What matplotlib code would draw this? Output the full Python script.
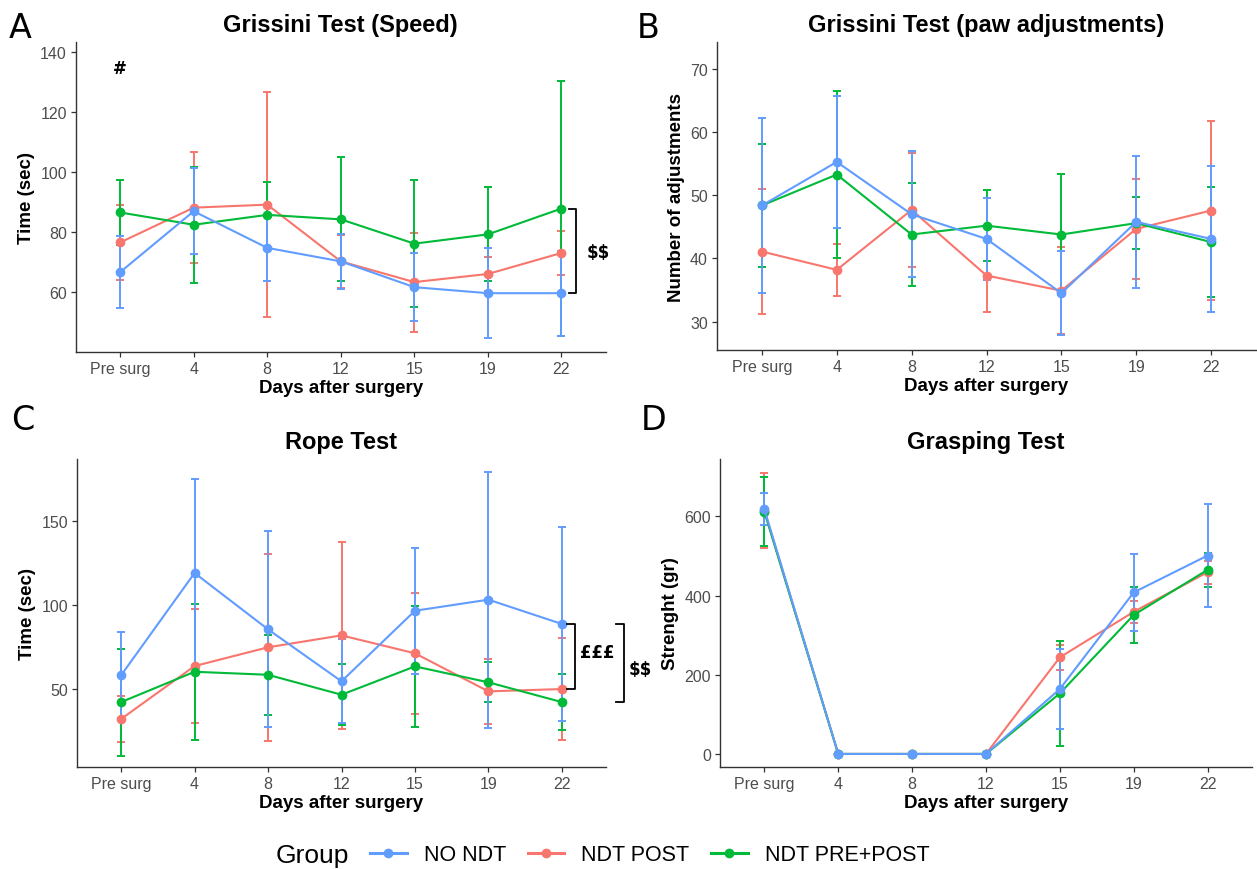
import numpy as np
import matplotlib
matplotlib.use('Agg')
from matplotlib import pyplot as plt
from matplotlib.lines import Line2D

plt.rcParams['font.family'] = ['Liberation Sans', 'DejaVu Sans']

# categories
days = ['Pre surg', '4', '8', '12', '15', '19', '22']
groups = ['NO NDT', 'NDT POST', 'NDT PRE+POST']
colors = {'NO NDT': '#619CFF', 'NDT POST': '#F8766D', 'NDT PRE+POST': '#00BA38'}

# A - Grissini speed (mean, error)
speed_no = [66.6, 86.9, 74.7, 70.2, 61.6, 59.6, 59.6]
speed_no_err = [11.9, 14.3, 11.0, 9.2, 11.4, 15.0, 14.2]
speed_post = [76.5, 88.1, 89.1, 70.2, 63.3, 66.0, 73.0]
speed_post_err = [12.4, 18.6, 37.4, 8.9, 16.5, 5.6, 7.3]
speed_prepost = [86.5, 82.4, 85.7, 84.2, 76.1, 79.2, 87.8]
speed_prepost_err = [10.8, 19.4, 11.1, 20.7, 21.2, 15.7, 42.6]

# B - Grissini paw adjustments
paw_no = [48.4, 55.3, 47.0, 43.1, 34.5, 45.8, 43.1]
paw_no_err = [13.9, 10.4, 10.0, 6.5, 6.7, 10.4, 11.5]
paw_post = [41.1, 38.2, 47.7, 37.3, 34.9, 44.7, 47.6]
paw_post_err = [9.9, 4.1, 9.0, 5.7, 6.9, 7.9, 14.2]
paw_prepost = [48.4, 53.3, 43.8, 45.2, 43.8, 45.6, 42.6]
paw_prepost_err = [9.8, 13.3, 8.2, 5.6, 9.6, 4.1, 8.7]

# C - Rope test
rope_no = [58.2, 119.2, 85.6, 54.6, 96.7, 103.3, 88.8]
rope_no_err = [25.6, 56.0, 58.4, 25.0, 37.6, 76.3, 57.6]
rope_post = [32.1, 63.7, 74.9, 82.0, 71.3, 48.6, 50.0]
rope_post_err = [13.9, 34.0, 55.8, 55.9, 36.0, 19.4, 30.4]
rope_prepost = [42.2, 60.3, 58.5, 46.6, 63.5, 54.0, 42.2]
rope_prepost_err = [31.9, 40.6, 23.7, 18.2, 36.3, 12.0, 16.5]

# D - Grasping test
grasp_no = [618, 0, 0, 0, 164, 408, 501]
grasp_no_err = [40, 0, 0, 0, 100, 97, 130]
grasp_post = [614, 0, 0, 0, 244, 359, 459]
grasp_post_err = [95, 0, 0, 0, 32, 28, 29]
grasp_prepost = [612, 0, 0, 0, 153, 351, 465]
grasp_prepost_err = [88, 0, 0, 0, 133, 70, 43]

W, H = 1257, 870
fig = plt.figure(figsize=(W / 100, H / 100), dpi=100)


def rect(l, r, t, b):
    return [l / W, (H - b) / H, (r - l) / W, (b - t) / H]


def panel(r, title, ylabel, data, ylim, yticks):
    ax = fig.add_axes(r)
    x = np.arange(len(days))
    # draw order as in the original (blue on top)
    for g in ['NDT POST', 'NDT PRE+POST', 'NO NDT']:
        m, e = data[g]
        ax.errorbar(x, m, yerr=e, color=colors[g], lw=1.5, elinewidth=1.4,
                    capsize=3, capthick=1.4, marker='o', ms=6, zorder=3)
    ax.set_xlim(-0.6, 6.6)
    ax.set_ylim(*ylim)
    ax.set_yticks(yticks)
    ax.set_xticks(x)
    ax.set_xticklabels(days)
    ax.set_title(title, fontsize=17, fontweight='bold', pad=8)
    ax.set_xlabel('Days after surgery', fontsize=13.5, fontweight='bold', labelpad=2)
    ax.set_ylabel(ylabel, fontsize=13.5, fontweight='bold', labelpad=4)
    for s in ['top', 'right']:
        ax.spines[s].set_visible(False)
    for s in ['left', 'bottom']:
        ax.spines[s].set_color('#333333')
        ax.spines[s].set_linewidth(1.0)
    ax.tick_params(length=3.5, width=0.9, color='#333333', labelsize=11.5,
                   labelcolor='#4D4D4D', pad=3)
    return ax


axA = panel(rect(76, 605.6, 43, 353), 'Grissini Test (Speed)', 'Time (sec)',
            {'NO NDT': (speed_no, speed_no_err),
             'NDT POST': (speed_post, speed_post_err),
             'NDT PRE+POST': (speed_prepost, speed_prepost_err)},
            (40, 143.3), [60, 80, 100, 120, 140])
axB = panel(rect(717, 1256, 43, 351), 'Grissini Test (paw adjustments)', 'Number of adjustments',
            {'NO NDT': (paw_no, paw_no_err),
             'NDT POST': (paw_post, paw_post_err),
             'NDT PRE+POST': (paw_prepost, paw_prepost_err)},
            (25.5, 74.3), [30, 40, 50, 60, 70])
axC = panel(rect(77, 606, 460, 768), 'Rope Test', 'Time (sec)',
            {'NO NDT': (rope_no, rope_no_err),
             'NDT POST': (rope_post, rope_post_err),
             'NDT PRE+POST': (rope_prepost, rope_prepost_err)},
            (3.5, 187.2), [50, 100, 150])
axD = panel(rect(720, 1252, 460, 768), 'Grasping Test', 'Strenght (gr)',
            {'NO NDT': (grasp_no, grasp_no_err),
             'NDT POST': (grasp_post, grasp_post_err),
             'NDT PRE+POST': (grasp_prepost, grasp_prepost_err)},
            (-33, 744.7), [0, 200, 400, 600])

ann = dict(fontweight='bold', family='DejaVu Sans', fontsize=12, color='black')


def bracket(ax, x0, x1, y0, y1):
    ax.plot([x0, x1, x1, x0], [y0, y0, y1, y1], color='black', lw=1.3,
            clip_on=False, zorder=4)


# A annotations
axA.text(0, 134.7, '#', ha='center', va='center', **ann)
bracket(axA, 6.1, 6.2, speed_prepost[6], speed_no[6])
axA.text(6.5, 73.3, r'\$\$', ha='center', va='center', **ann)

# C annotations
bracket(axC, 6.07, 6.18, rope_no[6], rope_post[6])
axC.text(6.48, 72, '£££', ha='center', va='center', **ann)
bracket(axC, 6.74, 6.84, rope_no[6], rope_prepost[6])
axC.text(7.06, 62, r'\$\$', ha='center', va='center', **ann)

# panel letters
for lab, (px, py) in zip('ABCD', [(9, 38), (637, 38), (11, 430), (641, 430)]):
    fig.text(px / W, 1 - py / H, lab, fontsize=24, family='DejaVu Sans',
             ha='left', va='baseline')

# legend
fig.text(276 / W, 1 - 856 / H, 'Group', fontsize=19, ha='left', va='center')
handles = [Line2D([], [], color=colors[g], lw=2.2, marker='o', ms=6) for g in groups]
fig.legend(handles, groups, ncol=3, loc='center left',
           bbox_to_anchor=(370 / W, 1 - 856 / H), frameon=False, fontsize=15.5,
           handlelength=1.7, handletextpad=0.8, columnspacing=1.0,
           borderaxespad=0, borderpad=0)

fig.savefig('out.png', dpi=100)
